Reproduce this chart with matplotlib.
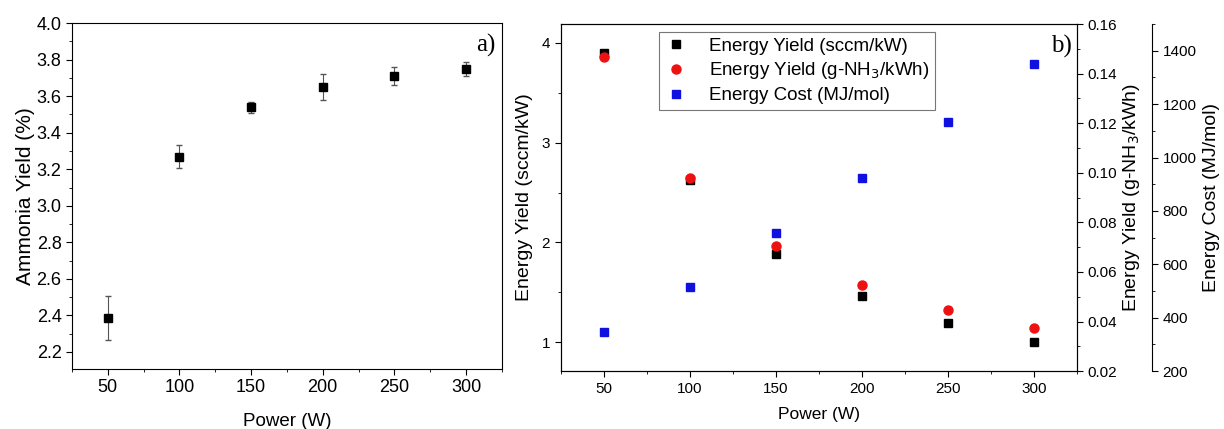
import matplotlib
matplotlib.use("agg")
import matplotlib.pyplot as plt
from matplotlib.ticker import MultipleLocator, AutoMinorLocator

plt.rcParams["font.family"] = ["Liberation Sans", "DejaVu Sans"]

# panel a) ammonia yield
power = [50, 100, 150, 200, 250, 300]
ammonia_yield = [2.385, 3.27, 3.54, 3.65, 3.71, 3.75]
ammonia_err = [0.12, 0.065, 0.03, 0.07, 0.05, 0.04]

# panel b) energy yield / cost
energy_yield_sccm = [3.90, 2.63, 1.88, 1.46, 1.19, 1.00]
energy_yield_g = [0.1467, 0.098, 0.0704, 0.0547, 0.0446, 0.0374]
energy_cost = [346, 515, 717, 923, 1133, 1350]


def style_ticks(ax, labelsize):
    ax.tick_params(which="both", direction="out", labelsize=labelsize)
    ax.tick_params(which="major", length=4)
    ax.tick_params(which="minor", length=2)


fig = plt.figure(figsize=(12.24, 4.29), dpi=100)

# ---- a)
ax1 = fig.add_axes([0.0588, 0.140, 0.3512, 0.806])
ax1.errorbar(power, ammonia_yield, yerr=ammonia_err, fmt="s", color="black",
             ms=6, ecolor="#555555", elinewidth=0.8, capsize=2)
ax1.set_xlim(25, 325)
ax1.set_ylim(2.107, 4.0)
ax1.xaxis.set_major_locator(MultipleLocator(50))
ax1.xaxis.set_minor_locator(AutoMinorLocator(2))
ax1.yaxis.set_major_locator(MultipleLocator(0.2))
ax1.yaxis.set_minor_locator(AutoMinorLocator(2))
ax1.yaxis.set_major_formatter(plt.FormatStrFormatter("%.1f"))
style_ticks(ax1, 13)
ax1.set_xlabel("Power (W)", fontsize=13.5, labelpad=12)
ax1.set_ylabel("Ammonia Yield (%)", fontsize=15, labelpad=1)
ax1.text(0.985, 0.97, "a)", transform=ax1.transAxes, ha="right", va="top",
         fontsize=18, family=["Liberation Serif", "DejaVu Serif"])

# ---- b)
ax2 = fig.add_axes([0.458, 0.135, 0.422, 0.809])
ax3 = ax2.twinx()
ax4 = ax2.twinx()
ax4.spines["right"].set_position(("axes", 1.145))

h1, = ax2.plot(power, energy_yield_sccm, "s", color="black", ms=6,
               label="Energy Yield (sccm/kW)")
h2, = ax3.plot(power, energy_yield_g, "o", color="#ee1111", ms=6.5,
               label="Energy Yield (g-NH$_3$/kWh)")
h3, = ax4.plot(power, energy_cost, "s", color="#1010e0", ms=6,
               label="Energy Cost (MJ/mol)")

ax2.set_xlim(25, 325)
ax2.set_ylim(0.71, 4.19)
ax3.set_ylim(0.02, 0.16)
ax4.set_ylim(200, 1500)
ax2.xaxis.set_major_locator(MultipleLocator(50))
ax2.xaxis.set_minor_locator(AutoMinorLocator(2))
ax2.yaxis.set_major_locator(MultipleLocator(1))
ax2.yaxis.set_minor_locator(AutoMinorLocator(2))
ax3.yaxis.set_major_locator(MultipleLocator(0.02))
ax3.yaxis.set_minor_locator(AutoMinorLocator(2))
ax3.yaxis.set_major_formatter(plt.FormatStrFormatter("%.2f"))
ax4.yaxis.set_major_locator(MultipleLocator(200))
ax4.yaxis.set_minor_locator(AutoMinorLocator(2))
for a in (ax2, ax3, ax4):
    style_ticks(a, 11)
ax4.spines["left"].set_visible(False)
ax4.spines["top"].set_visible(False)
ax4.spines["bottom"].set_visible(False)

ax2.set_xlabel("Power (W)", fontsize=12.5, labelpad=8)
ax2.set_ylabel("Energy Yield (sccm/kW)", fontsize=14, labelpad=6)
ax3.set_ylabel("Energy Yield (g-NH$_3$/kWh)", fontsize=14, labelpad=3)
ax4.set_ylabel("Energy Cost (MJ/mol)", fontsize=14, labelpad=5)
ax2.text(0.99, 0.97, "b)", transform=ax2.transAxes, ha="right", va="top",
         fontsize=18, family=["Liberation Serif", "DejaVu Serif"])

leg = ax2.legend(handles=[h1, h2, h3], loc="upper left",
                 bbox_to_anchor=(0.19, 0.977), fontsize=13.5, fancybox=False,
                 edgecolor="#777777", framealpha=1, handletextpad=1.2,
                 borderpad=0.3, labelspacing=0.3, handlelength=1.2,
                 borderaxespad=0)
leg.get_frame().set_linewidth(0.8)

fig.savefig("out.png", dpi=100, facecolor="white")
